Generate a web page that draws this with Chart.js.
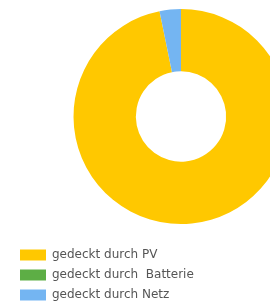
<!DOCTYPE html>
<html>
<head>
<meta charset="utf-8">
<script src="https://cdn.jsdelivr.net/npm/chart.js@4/dist/chart.umd.min.js"></script>
<style>
	body { margin: 0; background: #fff; }
	#wrap { width: 270px; height: 301px; overflow: hidden; }
	#myChart { display: block; margin-top: -8px; }
</style>
</head>
<body>
<div id="wrap">
	<canvas id="myChart" width="300" height="319"></canvas>
</div>
<script>
const labels = ["gedeckt durch PV", "gedeckt durch  Batterie", "gedeckt durch Netz"];
const values = [96.8, 0, 3.2];
const colors = ["#FFC800", "#5DAE45", "#74B5F2"];

const ctx = document.getElementById("myChart").getContext("2d");

new Chart(ctx, {
	type: "doughnut",
	data: {
		labels: labels,
		datasets: [{
			data: values,
			backgroundColor: colors,
			borderWidth: 0,
			hoverOffset: 0,
			clip: false
		}]
	},
	options: {
		responsive: false,
		animation: false,
		radius: 107.5,
		cutout: "42%",
		layout: { padding: { left: 12, right: 0, top: 0, bottom: 0 } },
		plugins: {
			tooltip: { enabled: false },
			// empty title on the left only shifts the ring to the right
			title: {
				display: true,
				text: "",
				position: "left",
				fullSize: false,
				font: { size: 10, lineHeight: 1 },
				padding: { top: 20, bottom: 20 }
			},
			legend: {
				position: "bottom",
				align: "start",
				labels: {
					boxWidth: 26,
					boxHeight: 11,
					padding: 8,
					color: "#555",
					font: { family: "DejaVu Sans", size: 12 }
				}
			}
		}
	}
});
</script>
</body>
</html>
